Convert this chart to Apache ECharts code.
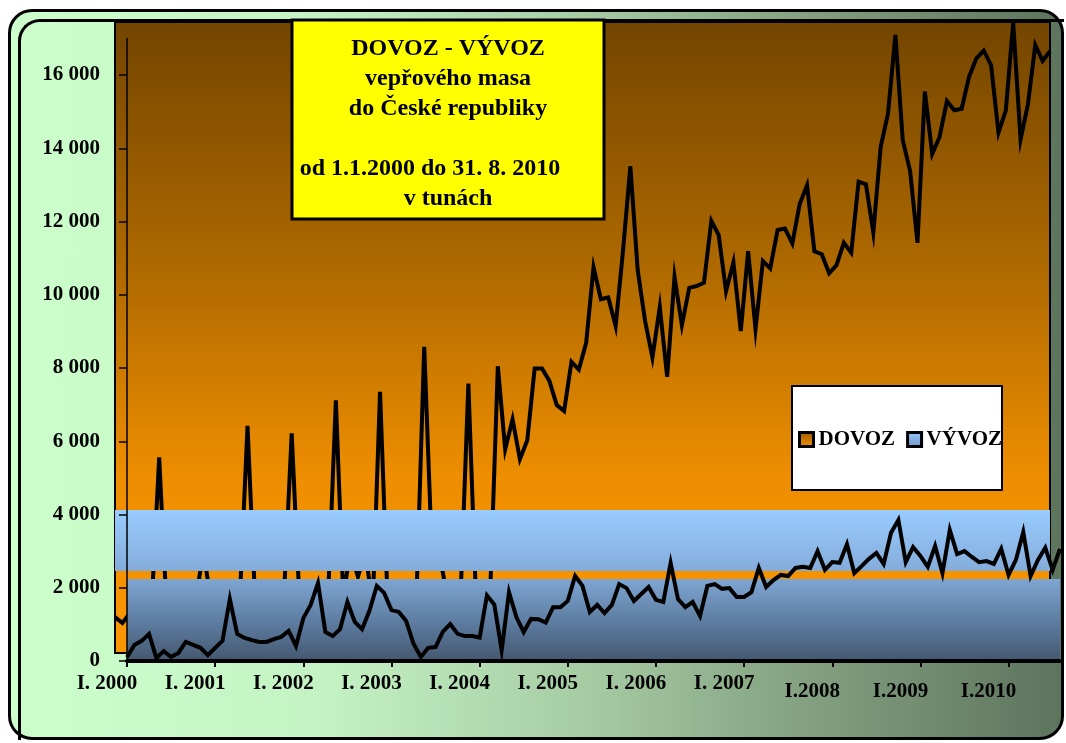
<!DOCTYPE html>
<html>
<head>
<meta charset="utf-8">
<script src="https://cdn.jsdelivr.net/npm/echarts@6/dist/echarts.min.js"></script>
<style>
html, body { margin: 0; padding: 0; background: #fff; }
#wrap { position: relative; width: 1066px; height: 743px; overflow: hidden; }
.frame { position: absolute; box-sizing: border-box; }
#outer {
  left: 8px; top: 9px; width: 1056px; height: 731px;
  border: 3px solid #000; border-radius: 24px;
  background: linear-gradient(to right, #ccffcc 0%, #c4f2c4 30%, #a6cba3 55%, #7f9c7c 78%, #5d745d 100%);
}
#inner {
  left: 18px; top: 19px; width: 1046px; height: 721px;
  border: 3px solid #000; border-right: none; border-bottom: none;
  border-top-left-radius: 22px;
}
#chart { position: absolute; left: 0; top: 0; width: 1066px; height: 743px; }
</style>
</head>
<body>
<div id="wrap">
  <div class="frame" id="outer"></div>
  <div class="frame" id="inner"></div>
  <div id="chart"></div>
</div>
<script>
// osa x: leden kazdeho roku
const yearLabels = ['I. 2000', 'I. 2001', 'I. 2002', 'I. 2003', 'I. 2004', 'I. 2005',
  'I. 2006', 'I. 2007', 'I.2008', 'I.2009', 'I.2010'];
const yTicks = [0, 2000, 4000, 6000, 8000, 10000, 12000, 14000, 16000];

// mesice 1/2000 - 8/2010
const months = [];
for (let y = 2000; y <= 2010; y++) {
  for (let m = 1; m <= 12; m++) {
    if (y === 2010 && m > 8) break;
    months.push(y + '-' + (m < 10 ? '0' + m : m));
  }
}

// tuny
const dovoz = [
  1200, 1040, 1300, 1450, 1350, 1600, 5560, 1500, 1400, 1650, 1500, 1700,
  3000, 1700, 1600, 1800, 1700, 1900, 6420, 1800, 1700, 1900, 1800, 2000,
  6220, 1900, 1800, 2000, 1900, 2050, 7120, 1800, 3000, 2300, 3000, 1500,
  7350, 1800, 1900, 2000, 1900, 2050, 8580, 3200, 3000, 1900, 2000, 2100,
  7580, 1900, 2000, 2100, 8050, 5780, 6600, 5510, 6030, 7990, 7990, 7650,
  6990, 6830, 8170, 7960, 8690, 10750, 9880, 9930, 9150, 11200, 13510, 10670,
  9290, 8290, 9670, 7760, 10490, 9170, 10190, 10240, 10330, 12020, 11630, 10100,
  10890, 9010, 11190, 9060, 10920, 10720, 11770, 11810, 11400, 12480, 12990, 11190,
  11110, 10590, 10810, 11420, 11150, 13090, 13020, 11700, 14040, 14950, 17100, 14220,
  13380, 11420, 15550, 13850, 14310, 15290, 15040, 15080, 15950, 16460, 16670, 16270,
  14430, 15040, 17430, 14240, 15200, 16820, 16390, 16650
];
const vyvoz = [
  100, 440, 550, 740, 80, 270, 110, 220, 520, 440, 360, 160,
  360, 550, 1690, 740, 630, 570, 520, 520, 600, 660, 820, 410,
  1170, 1530, 2130, 790, 680, 870, 1610, 1070, 870, 1370, 2050, 1860,
  1390, 1340, 1090, 470, 110, 360, 380, 800, 1010, 740, 680, 680,
  640, 1790, 1540, 290, 1880, 1200, 790, 1150, 1140, 1050, 1470, 1470,
  1640, 2320, 2050, 1340, 1530, 1310, 1530, 2100, 1990, 1640, 1830, 2020,
  1670, 1610, 2680, 1690, 1470, 1610, 1230, 2050, 2100, 1970, 1990, 1750,
  1750, 1880, 2540, 2020, 2210, 2350, 2320, 2540, 2570, 2540, 3000, 2490,
  2700, 2680, 3190, 2400, 2590, 2790, 2950, 2650, 3500, 3850, 2700, 3110,
  2870, 2570, 3140, 2400, 3580, 2920, 3000, 2840, 2700, 2730, 2650, 3060,
  2350, 2760, 3520, 2320, 2760, 3090, 2490, 3060
];

const serif = '"Liberation Serif", "Times New Roman", serif';
const grad = (stops) => new echarts.graphic.LinearGradient(0, 0, 0, 1,
  stops.map(s => ({ offset: s[0], color: s[1] })));
const fmt = v => String(v).replace(/\B(?=(\d{3})+(?!\d))/g, ' ');
const lbl = { fontFamily: serif, fontSize: 21, fontWeight: 'bold', color: '#000' };

const myChart = echarts.init(document.getElementById('chart'));
myChart.setOption({
  animation: false,
  title: {
    text: 'DOVOZ - VÝVOZ\nvepřového masa\ndo České republiky\n\nod 1.1.2000 do 31. 8. 2010      \nv tunách',
    left: 448, top: 34, textAlign: 'center', padding: 0,
    textStyle: { fontFamily: serif, fontSize: 24, fontWeight: 'bold', color: '#000', lineHeight: 30 }
  },
  legend: {
    left: 798, top: 429, padding: 0, itemWidth: 14, itemHeight: 14, itemGap: 11,
    icon: 'rect', selectedMode: false,
    textStyle: lbl,
    data: [
      { name: 'DOVOZ', itemStyle: { color: grad([[0, '#9a5a00'], [1, '#f59200']]), borderColor: '#000', borderWidth: 3 } },
      { name: 'VÝVOZ', itemStyle: { color: grad([[0, '#99ccff'], [1, '#6f94c2']]), borderColor: '#000', borderWidth: 3 } }
    ]
  },
  graphic: [
    { type: 'rect', z: 5, shape: { x: 292, y: 20, width: 312, height: 199 },
      style: { fill: '#ffff00', stroke: '#000', lineWidth: 3 } },
    { type: 'rect', z: 3, shape: { x: 792, y: 386, width: 210, height: 104 },
      style: { fill: '#fff', stroke: '#000', lineWidth: 2 } }
  ],
  grid: [
    { left: 115, right: 16, top: 22, bottom: 90, show: true, borderColor: '#000', borderWidth: 2,
      backgroundColor: grad([[0, '#734500'], [0.4, '#b06a00'], [0.72, '#ee8e00'], [1, '#fa9600']]) },
    { left: 127, right: 6, top: 38.4, bottom: 82 }
  ],
  xAxis: [
    { type: 'category', gridIndex: 0, data: months, boundaryGap: false, show: false },
    { type: 'category', gridIndex: 1, data: months, boundaryGap: false, z: 5,
      axisLine: { lineStyle: { color: '#000', width: 4 } },
      axisTick: { interval: 11, length: 6, lineStyle: { color: '#000', width: 2 } },
      axisLabel: {
        interval: 11, margin: 12,
        formatter: (v, i) => (i >= 96 ? '{l|' : '{n|') + yearLabels[Math.round(i / 12)] + '}',
        rich: {
          n: Object.assign({ padding: [0, 40, 0, 0] }, lbl),
          l: Object.assign({ padding: [8, 40, 0, 0] }, lbl)
        }
      }
    }
  ],
  yAxis: [
    { type: 'value', gridIndex: 0, min: 220, max: 17450, show: false },
    { type: 'value', gridIndex: 1, min: 0, max: 17000, interval: 2000, z: 5,
      splitLine: { show: false },
      axisLine: { show: true, lineStyle: { color: '#000', width: 1.5 } },
      axisTick: { show: true, length: 8, customValues: yTicks, lineStyle: { color: '#000', width: 1.5 } },
      axisLabel: Object.assign({ margin: 27, customValues: yTicks, formatter: fmt }, lbl)
    }
  ],
  series: [
    {
      name: 'DOVOZ', type: 'line', xAxisIndex: 0, yAxisIndex: 0, data: dovoz, z: 2,
      symbol: 'none', itemStyle: { color: '#f59200' },
      lineStyle: { color: '#000', width: 4, join: 'miter' },
      markArea: {
        silent: true, z: 3,
        itemStyle: { color: grad([[0, '#99ccff'], [1, '#84acda']]) },
        data: [[{ yAxis: 2457 }, { yAxis: 4123 }]]
      }
    },
    {
      name: 'VÝVOZ', type: 'line', xAxisIndex: 1, yAxisIndex: 1, data: vyvoz, z: 4,
      symbol: 'none', itemStyle: { color: '#8db4e2' },
      lineStyle: { color: '#000', width: 4, join: 'miter' },
      markArea: {
        silent: true, z: 3,
        itemStyle: { color: grad([[0, '#7ea6d2'], [0.5, '#5f7ea3'], [1, '#44586f']]) },
        data: [[{ yAxis: 0 }, { yAxis: 2239 }]]
      }
    }
  ]
});
</script>
</body>
</html>
